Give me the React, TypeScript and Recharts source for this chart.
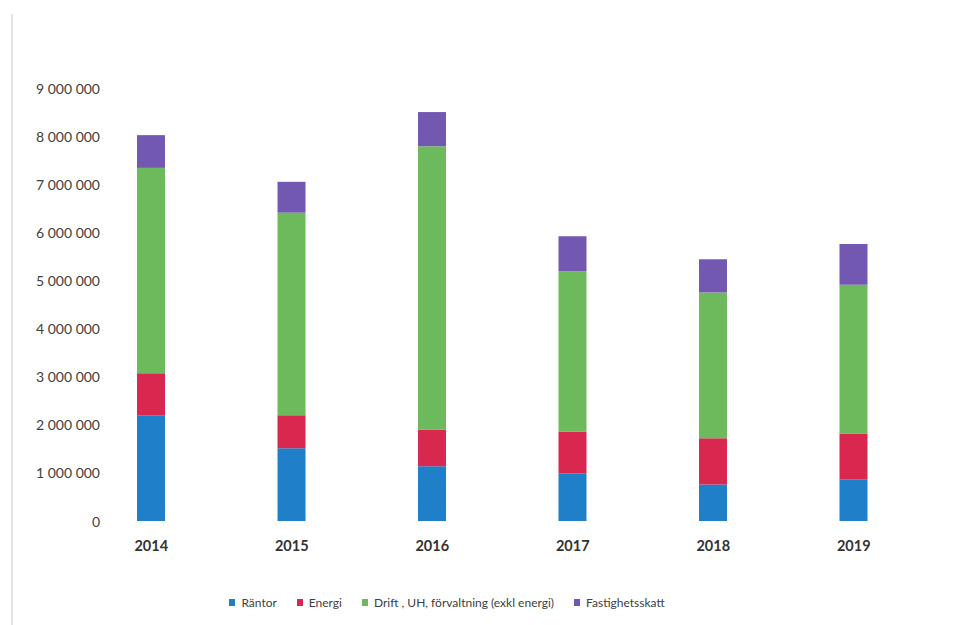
import React from "react";
import { BarChart, Bar, XAxis, YAxis } from "recharts";

const years = ["2014", "2015", "2016", "2017", "2018", "2019"];
const rantor = [2200000, 1510000, 1140000, 990000, 760000, 870000];
const energi = [870000, 690000, 760000, 870000, 960000, 950000];
const drift = [4270000, 4210000, 5890000, 3330000, 3030000, 3090000];
const fastighetsskatt = [680000, 640000, 710000, 730000, 690000, 850000];
const yTicks = [0, 1000000, 2000000, 3000000, 4000000, 5000000, 6000000, 7000000, 8000000, 9000000];

const series = [
  { key: "rantor", name: "Räntor", color: "#1f7fc9" },
  { key: "energi", name: "Energi", color: "#d9284f" },
  { key: "drift", name: "Drift , UH, förvaltning (exkl energi)", color: "#6cba5c" },
  { key: "fastighetsskatt", name: "Fastighetsskatt", color: "#7258b0" },
];

const data = years.map((year, i) => ({
  year,
  rantor: rantor[i],
  energi: energi[i],
  drift: drift[i],
  fastighetsskatt: fastighetsskatt[i],
}));

const FONT = "Lato, 'Open Sans', sans-serif";

const formatTick = (v: number) =>
  v === 0 ? "0" : String(v).replace(/\B(?=(\d{3})+(?!\d))/g, " ");

const YTick = (props: any) => {
  const { y, payload } = props;
  return (
    <text x={100} y={y} textAnchor="end" dominantBaseline="central" fill="#404040" fontSize={14} fontFamily={FONT}>
      {formatTick(payload.value)}
    </text>
  );
};

const XTick = (props: any) => {
  const { x, y, payload } = props;
  return (
    <text x={x} y={y + 24} textAnchor="middle" dominantBaseline="central" fill="#333" fontSize={14.5} fontWeight={700} fontFamily={FONT}>
      {payload.value}
    </text>
  );
};

export default function App() {
  return (
    <div style={{ position: "absolute", left: 0, top: 0, width: 978, height: 625, background: "#fff", overflow: "hidden" }}>
      <div style={{ position: "absolute", left: 11, top: 14, width: 2, height: 611, background: "#e4e4e4" }} />
      <BarChart
        width={978}
        height={625}
        data={data}
        margin={{ top: 88, right: 54, bottom: 74, left: 0 }}
        barSize={28}
      >
        <XAxis dataKey="year" height={30} axisLine={false} tickLine={false} tickSize={0} tickMargin={0} tick={<XTick />} interval={0} />
        <YAxis
          width={81}
          domain={[0, 9000000]}
          ticks={yTicks}
          axisLine={false}
          tickLine={false}
          tickSize={0}
          tickMargin={0}
          tick={<YTick />}
          interval={0}
        />
        {series.map((s) => (
          <Bar key={s.key} dataKey={s.key} name={s.name} stackId="a" fill={s.color} isAnimationActive={false} />
        ))}
      </BarChart>
      <div
        style={{
          position: "absolute",
          left: 0,
          width: 894,
          top: 595,
          display: "flex",
          justifyContent: "center",
          alignItems: "center",
          fontFamily: FONT,
          fontSize: 12,
          color: "#404040",
        }}
      >
        {series.map((s) => (
          <div key={s.key} style={{ display: "flex", alignItems: "center", margin: "0 10px" }}>
            <span style={{ display: "inline-block", width: 6, height: 7, background: s.color, marginRight: 6 }} />
            <span>{s.name}</span>
          </div>
        ))}
      </div>
    </div>
  );
}
